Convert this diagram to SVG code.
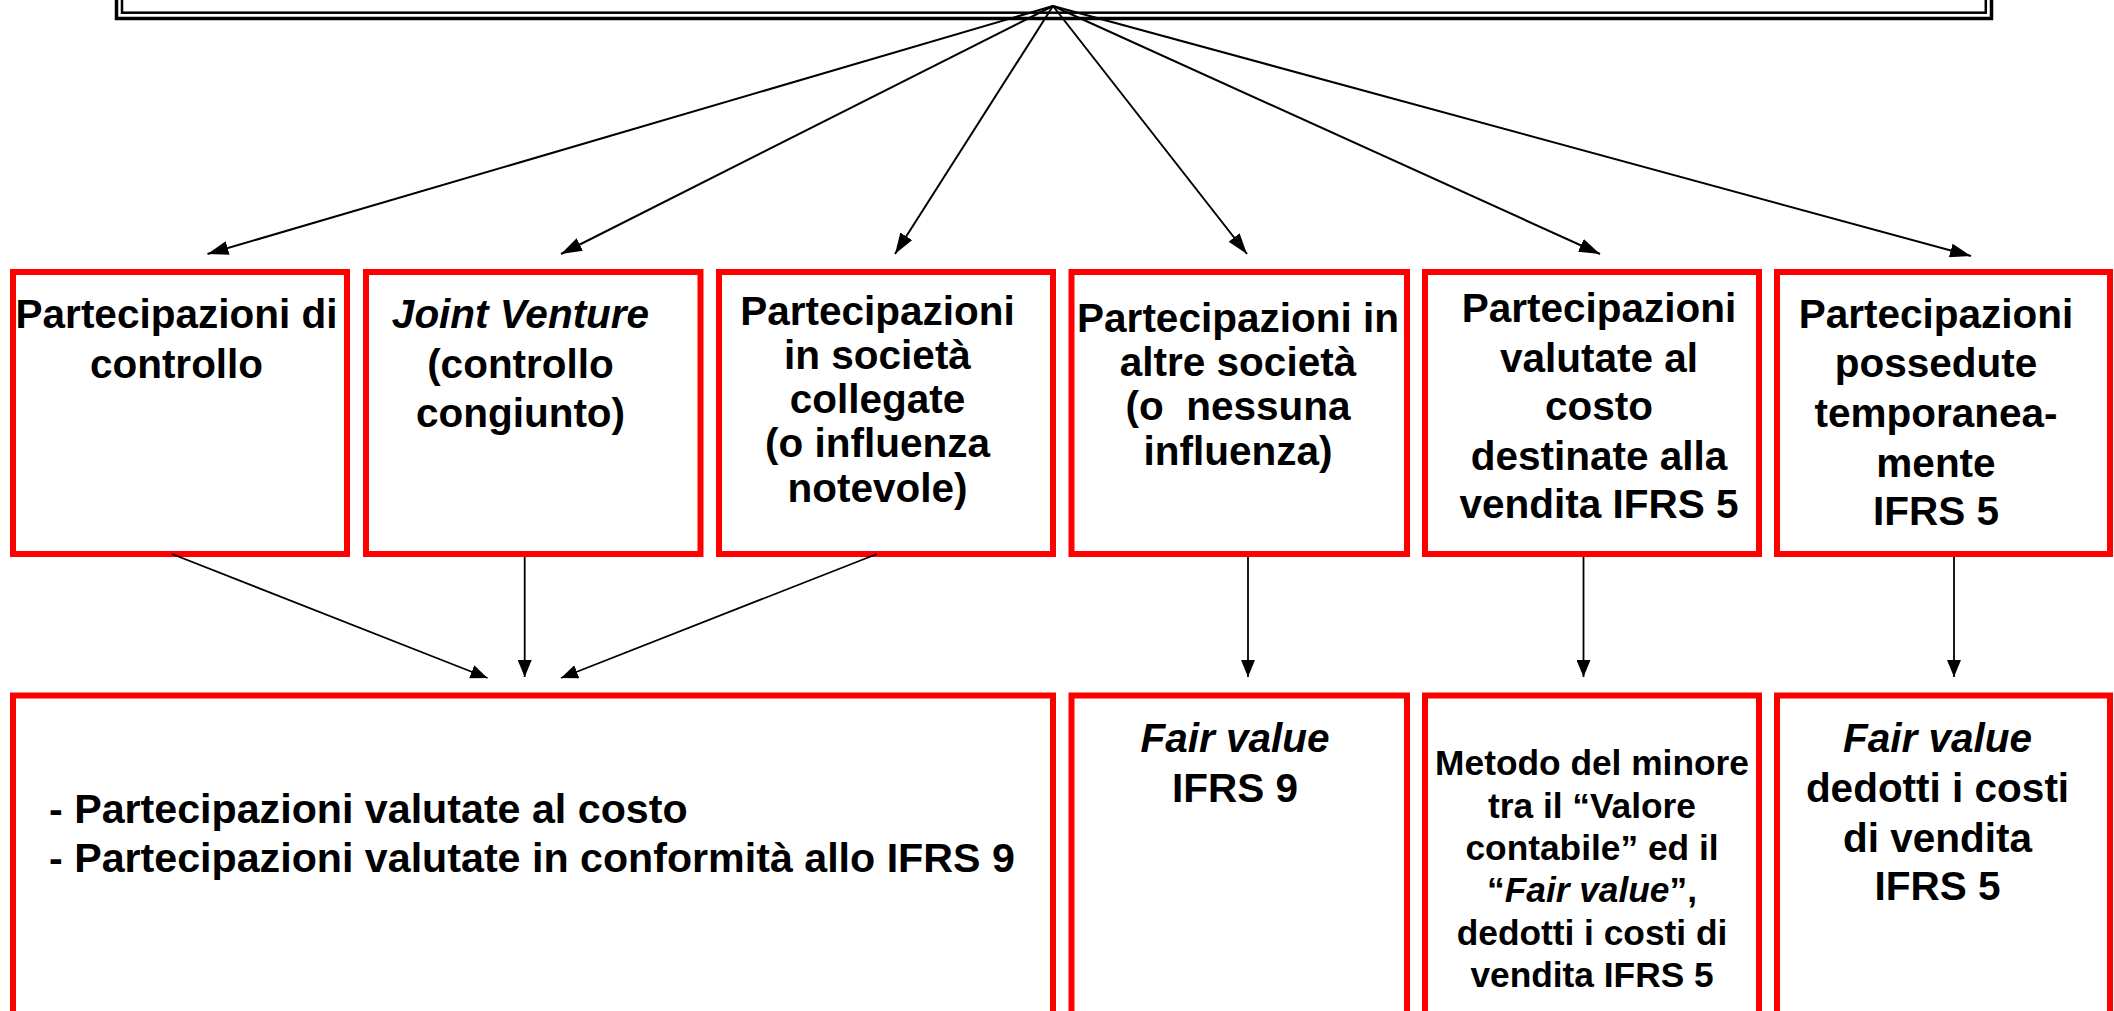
<svg xmlns="http://www.w3.org/2000/svg" width="2114" height="1011" viewBox="0 0 2114 1011">
  <style>
    .box { fill: #FFFFFF; stroke: #FF0000; stroke-width: 6; }
    .frame { fill: none; stroke: #000000; }
    .t { font-family: "Liberation Sans", Arial, sans-serif; font-weight: bold; font-size: 40.5px; fill: #000000; text-anchor: middle; }
    .left { text-anchor: start; font-size: 41.2px; }
    .small { font-size: 35.3px; }
    .it { font-style: italic; }
    .edge { fill: none; stroke: #000000; stroke-width: 2; }
    .edge2 { fill: none; stroke: #000000; stroke-width: 1.8; }
  </style>
  <defs>
    <marker id="arrow" markerUnits="userSpaceOnUse" markerWidth="21" markerHeight="14" viewBox="0 0 21 14" refX="21" refY="7" orient="auto">
      <path d="M0,0 L21,7 L0,14 z" fill="#000000"/>
    </marker>
    <marker id="arrowS" markerUnits="userSpaceOnUse" markerWidth="17" markerHeight="14" viewBox="0 0 17 14" refX="17" refY="7" orient="auto">
      <path d="M0,0 L17,7 L0,14 z" fill="#000000"/>
    </marker>
  </defs>

  <rect width="2114" height="1011" fill="#FFFFFF"/>

  <!-- title frame (double border, top edge runs off the page) -->
  <g id="title-frame">
    <rect class="frame" x="116.5" y="-50" width="1875" height="68.5" stroke-width="3.5"/>
    <rect class="frame" x="122" y="-50" width="1863.8" height="62.7" stroke-width="2.5"/>
  </g>

  <!-- upper row -->
  <g id="controllo">
    <rect class="box" x="13" y="272" width="334" height="282"/>
    <text class="t" x="176.5" y="328">Partecipazioni di</text>
    <text class="t" x="176.5" y="378">controllo</text>
  </g>
  <g id="joint-venture">
    <rect class="box" x="366" y="272" width="334.5" height="282"/>
    <text class="t it" x="520.5" y="328">Joint Venture</text>
    <text class="t" x="520.5" y="378">(controllo</text>
    <text class="t" x="520.5" y="427">congiunto)</text>
  </g>
  <g id="collegate">
    <rect class="box" x="719" y="272" width="334" height="282"/>
    <text class="t" x="877.5" y="325">Partecipazioni</text>
    <text class="t" x="877.5" y="369">in società</text>
    <text class="t" x="877.5" y="413">collegate</text>
    <text class="t" x="877.5" y="457">(o influenza</text>
    <text class="t" x="877.5" y="502">notevole)</text>
  </g>
  <g id="altre-societa">
    <rect class="box" x="1071.5" y="272" width="335.5" height="282"/>
    <text class="t" x="1238" y="332">Partecipazioni in</text>
    <text class="t" x="1238" y="376">altre società</text>
    <text class="t" x="1238" y="420" xml:space="preserve">(o  nessuna</text>
    <text class="t" x="1238" y="465">influenza)</text>
  </g>
  <g id="destinate-vendita">
    <rect class="box" x="1425" y="272" width="334" height="282"/>
    <text class="t" x="1599" y="322">Partecipazioni</text>
    <text class="t" x="1599" y="372">valutate al</text>
    <text class="t" x="1599" y="420">costo</text>
    <text class="t" x="1599" y="470">destinate alla</text>
    <text class="t" x="1599" y="518">vendita IFRS 5</text>
  </g>
  <g id="temporanee">
    <rect class="box" x="1777" y="272" width="333" height="282"/>
    <text class="t" x="1936" y="328">Partecipazioni</text>
    <text class="t" x="1936" y="377">possedute</text>
    <text class="t" x="1936" y="427">temporanea-</text>
    <text class="t" x="1936" y="477">mente</text>
    <text class="t" x="1936" y="525">IFRS 5</text>
  </g>

  <!-- lower row -->
  <g id="costo-ifrs9">
    <rect class="box" x="13" y="695.5" width="1040" height="340"/>
    <text class="t left" x="49" y="823">- Partecipazioni valutate al costo</text>
    <text class="t left" x="49" y="872">- Partecipazioni valutate in conformità allo IFRS 9</text>
  </g>
  <g id="fair-value-ifrs9">
    <rect class="box" x="1071.5" y="695.5" width="335.5" height="340"/>
    <text class="t it" x="1235" y="752">Fair value</text>
    <text class="t" x="1235" y="802">IFRS 9</text>
  </g>
  <g id="minore-valore">
    <rect class="box" x="1425" y="695.5" width="334" height="340"/>
    <text class="t small" x="1592" y="775">Metodo del minore</text>
    <text class="t small" x="1592" y="818">tra il “Valore</text>
    <text class="t small" x="1592" y="860">contabile” ed il</text>
    <text class="t small" x="1592" y="902">“<tspan class="it">Fair value</tspan>”,</text>
    <text class="t small" x="1592" y="945">dedotti i costi di</text>
    <text class="t small" x="1592" y="987">vendita IFRS 5</text>
  </g>
  <g id="fair-value-ifrs5">
    <rect class="box" x="1777" y="695.5" width="333" height="340"/>
    <text class="t it" x="1937.5" y="752">Fair value</text>
    <text class="t" x="1937.5" y="802">dedotti i costi</text>
    <text class="t" x="1937.5" y="852">di vendita</text>
    <text class="t" x="1937.5" y="900">IFRS 5</text>
  </g>

  <!-- connectors -->
  <g id="connectors">
    <line class="edge" x1="1053" y1="6" x2="207.5" y2="254" marker-end="url(#arrow)"/>
    <line class="edge" x1="1053" y1="6" x2="561" y2="254" marker-end="url(#arrow)"/>
    <line class="edge" x1="1053" y1="6" x2="895" y2="254" marker-end="url(#arrow)"/>
    <line class="edge" x1="1053" y1="6" x2="1247" y2="254" marker-end="url(#arrow)"/>
    <line class="edge" x1="1053" y1="6" x2="1600" y2="254" marker-end="url(#arrow)"/>
    <line class="edge" x1="1053" y1="6" x2="1971" y2="256" marker-end="url(#arrow)"/>

    <line class="edge2" x1="172" y1="554" x2="487.5" y2="678" marker-end="url(#arrowS)"/>
    <line class="edge2" x1="524.7" y1="557" x2="524.7" y2="677" marker-end="url(#arrowS)"/>
    <line class="edge2" x1="877" y1="554" x2="561" y2="678" marker-end="url(#arrowS)"/>
    <line class="edge2" x1="1248" y1="557" x2="1248" y2="677" marker-end="url(#arrowS)"/>
    <line class="edge2" x1="1583.5" y1="557" x2="1583.5" y2="677" marker-end="url(#arrowS)"/>
    <line class="edge2" x1="1954" y1="557" x2="1954" y2="677" marker-end="url(#arrowS)"/>
  </g>
</svg>
